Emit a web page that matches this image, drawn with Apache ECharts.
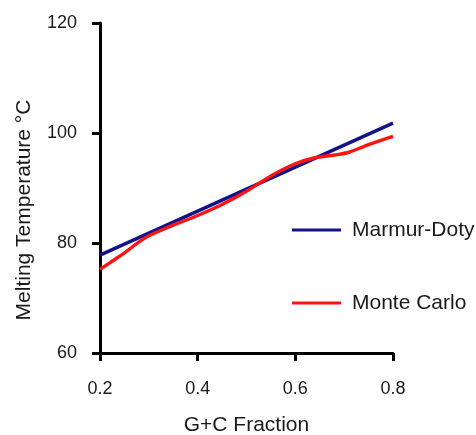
<!DOCTYPE html>
<html>
<head>
<meta charset="utf-8">
<script src="https://cdn.jsdelivr.net/npm/echarts@6/dist/echarts.min.js"></script>
<style>
html,body{margin:0;padding:0;background:#fff;}
#chart{width:476px;height:435px;}
</style>
</head>
<body>
<div id="chart"></div>
<script>
// Data
const seriesNames = ['Marmur-Doty', 'Monte Carlo'];
const gcMarmur = [0.2, 0.3, 0.4, 0.5, 0.6, 0.7, 0.8];
const tmMarmur = [77.8, 81.8, 85.8, 89.8, 93.8, 97.8, 101.8];
const gcMonte = [0.20, 0.22, 0.25, 0.28, 0.30, 0.33, 0.36, 0.40, 0.45, 0.50, 0.55, 0.60, 0.64, 0.68, 0.71, 0.75, 0.80];
const tmMonte = [75.2, 76.4, 78.2, 80.2, 81.3, 82.5, 83.6, 85.0, 87.0, 89.4, 92.2, 94.4, 95.5, 96.0, 96.5, 97.9, 99.4];
const xTicks = [0.2, 0.4, 0.6, 0.8];
const yTicks = [60, 80, 100, 120];
const xTitle = 'G+C Fraction';
const yTitle = 'Melting Temperature °C';

const font = '"Liberation Sans", Arial, Helvetica, sans-serif';
const textColor = '#1a1a1a';

const chart = echarts.init(document.getElementById('chart'), null, {renderer: 'canvas'});
const pairs = (xs, ys) => xs.map((x, i) => [x, ys[i]]);

chart.setOption({
  animation: false,
  backgroundColor: '#ffffff',
  grid: {left: 100, right: 83, top: 23, bottom: 82, containLabel: false, outerBoundsMode: 'none'},
  legend: {
    orient: 'vertical',
    left: 292,
    top: 218,
    padding: 0,
    itemWidth: 49,
    itemHeight: 3,
    itemGap: 49,
    icon: 'rect',
    data: seriesNames,
    textStyle: {fontSize: 21, fontFamily: font, color: textColor, lineHeight: 24, padding: [0, 0, 0, 6]}
  },
  xAxis: {
    type: 'value',
    min: xTicks[0],
    max: xTicks[xTicks.length - 1],
    interval: 0.2,
    name: xTitle,
    nameLocation: 'middle',
    nameGap: 62,
    nameTextStyle: {fontSize: 21, fontFamily: font, color: textColor},
    axisLine: {show: true, lineStyle: {color: '#000', width: 3}},
    axisTick: {show: true, inside: false, length: 8, lineStyle: {color: '#000', width: 3}},
    axisLabel: {margin: 27, fontSize: 18, fontFamily: font, color: textColor,
      formatter: v => v.toFixed(1)},
    splitLine: {show: false}
  },
  yAxis: {
    type: 'value',
    min: yTicks[0],
    max: yTicks[yTicks.length - 1],
    interval: 20,
    axisLine: {show: true, lineStyle: {color: '#000', width: 3}},
    axisTick: {show: true, inside: false, length: 8, lineStyle: {color: '#000', width: 3}},
    axisLabel: {margin: 23, fontSize: 18, fontFamily: font, color: textColor},
    splitLine: {show: false}
  },
  graphic: [{
    type: 'text',
    x: 24,
    y: 210,
    rotation: Math.PI / 2,
    style: {text: yTitle, fontSize: 21, fontFamily: font, fill: textColor, align: 'center', verticalAlign: 'middle'}
  }],
  series: [
    {
      name: seriesNames[0],
      type: 'line',
      data: pairs(gcMarmur, tmMarmur),
      showSymbol: false,
      symbol: 'none',
      color: '#12128a',
      lineStyle: {width: 3.4, color: '#12128a'}
    },
    {
      name: seriesNames[1],
      type: 'line',
      data: pairs(gcMonte, tmMonte),
      showSymbol: false,
      symbol: 'none',
      smooth: 0.3,
      color: '#ff1414',
      lineStyle: {width: 3.4, color: '#ff1414'}
    }
  ]
});
</script>
</body>
</html>
